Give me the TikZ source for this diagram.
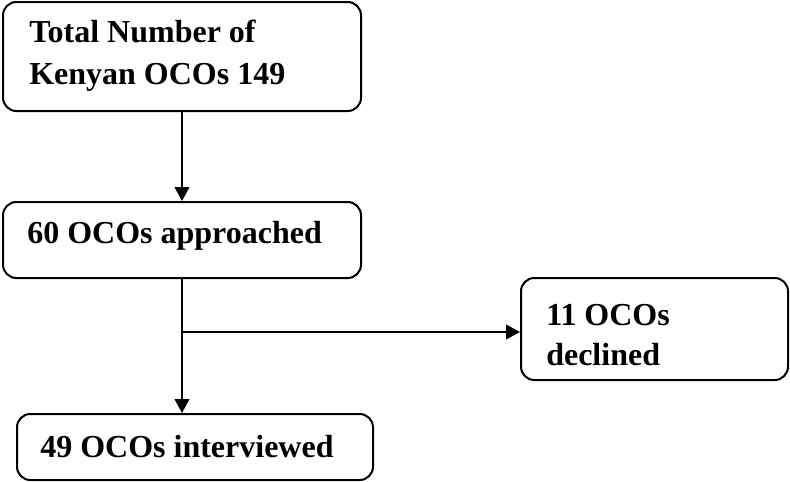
\documentclass[tikz,border=0pt]{standalone}
\usepackage{fontspec}
\setmainfont{Liberation Serif}
\usetikzlibrary{arrows.meta}
\begin{document}
\begin{tikzpicture}[x=0.75pt,y=-0.75pt,
  box/.style={draw=black,line width=1.5pt,rounded corners=10pt,inner sep=0pt,fill=white},
  lbl/.style={anchor=west,inner sep=0pt,align=left,font=\fontsize{24}{31.5}\selectfont\bfseries},
  arr/.style={line width=1.5pt,-{Triangle[length=10.5pt,width=11pt]}}]
\useasboundingbox (0,0) rectangle (790,482);
\node[box,minimum width=268.5pt,minimum height=81.75pt] (b1) at (182,56.5) {};
\node[box,minimum width=268.5pt,minimum height=57pt] (b2) at (182,240) {};
\node[box,minimum width=200.25pt,minimum height=76.5pt] (b3) at (654.5,329) {};
\node[box,minimum width=267pt,minimum height=49.5pt] (b4) at (195,447) {};
\node[lbl] (t1) at (29,56) {Total Number of\\Kenyan OCOs 149};
\node[lbl] (t2) at (27,236) {60 OCOs approached};
\node[lbl,font=\fontsize{24}{30}\selectfont\bfseries] (t3) at (546,335) {11 OCOs\\declined};
\node[lbl] (t4) at (40,447) {49 OCOs interviewed};
\draw[arr] (b1.south) -- (b2.north);
\draw[arr] (b2.south) -- (b2.south |- b4.north);
\coordinate (j) at (182,332);
\draw[arr] (j) -- (j -| b3.west);
\end{tikzpicture}
\end{document}
